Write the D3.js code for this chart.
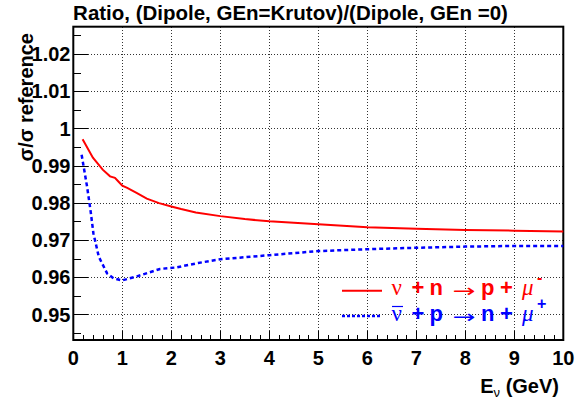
<!DOCTYPE html>
<html><head><meta charset="utf-8">
<script src="https://cdn.jsdelivr.net/npm/d3@7"></script>
<style>
html,body{margin:0;padding:0;background:#fff;}
svg{display:block;}
</style></head>
<body>
<script>
// ---- data ----
const titleText = "Ratio, (Dipole, GEn=Krutov)/(Dipole, GEn =0)";
const xTicks = [0,1,2,3,4,5,6,7,8,9,10];
const yTicks = [0.95,0.96,0.97,0.98,0.99,1,1.01,1.02];
const yTickLabels = ["0.95","0.96","0.97","0.98","0.99","1","1.01","1.02"];
const nuE = [0.19,0.4,0.6,0.75,0.85,0.92,1.0,1.1,1.3,1.5,1.75,2.0,2.2,2.5,3,3.5,4,4.5,5,6,7,8,9,10];
const nuR = [0.9971,0.9921,0.9889,0.9871,0.9867,0.9857,0.9846,0.9840,0.9826,0.9811,0.9799,0.9790,0.9783,0.9774,0.9764,0.9756,0.9750,0.9746,0.9742,0.9734,0.9730,0.9727,0.9725,0.9723];
const nubarE = [0.17,0.28,0.35,0.41,0.52,0.69,0.82,0.99,1.3,1.77,2.1,2.55,3,4,5,6,7,8,9,10];
const nubarR = [0.9929,0.9844,0.9781,0.9718,0.9655,0.9610,0.9597,0.9591,0.9602,0.9622,0.9626,0.9638,0.9648,0.9659,0.9670,0.9675,0.9679,0.9682,0.9684,0.9684];

const SANS = "'Liberation Sans',Arial,sans-serif";
const W = 583, H = 400;
const L = 73.3, R = 563.3, T = 26.7, B = 340;
const svg = d3.select("body").append("svg").attr("width", W).attr("height", H)
  .style("font-family", SANS);

const x = d3.scaleLinear().domain([0,10]).range([L,R]);
const y = d3.scaleLinear().domain([0.94309,1.02734]).range([B,T]);

// grid
const grid = svg.append("g").attr("stroke","#333").attr("stroke-width",1).attr("stroke-dasharray","1,2").attr("shape-rendering","crispEdges");
grid.selectAll("line.gx").data(xTicks.filter(d=>d>0&&d<10)).join("line")
  .attr("x1",d=>Math.round(x(d))+0.5).attr("x2",d=>Math.round(x(d))+0.5).attr("y1",T).attr("y2",B);
grid.selectAll("line.gy").data(yTicks).join("line")
  .attr("y1",d=>Math.round(y(d))+0.5).attr("y2",d=>Math.round(y(d))+0.5).attr("x1",L).attr("x2",R);

// ticks (major + minor)
const tk = svg.append("g").attr("stroke","#000").attr("stroke-width",1).attr("shape-rendering","crispEdges");
const xMinor = d3.range(0,10.001,0.2).map(v=>+v.toFixed(2));
tk.selectAll("line.xt").data(xMinor).join("line")
  .attr("x1",d=>Math.round(x(d))+0.5).attr("x2",d=>Math.round(x(d))+0.5)
  .attr("y1",B).attr("y2",d=>B-(Math.abs(d-Math.round(d))<1e-6?9.5:5));
const yMinor = d3.range(0.945,1.0271,0.005).map(v=>+v.toFixed(3));
tk.selectAll("line.yt").data(yMinor).join("line")
  .attr("y1",d=>Math.round(y(d))+0.5).attr("y2",d=>Math.round(y(d))+0.5)
  .attr("x1",L).attr("x2",d=>L+(Math.abs(d*100-Math.round(d*100))<1e-6?15:7.5));

// frame
svg.append("rect").attr("x",L).attr("y",T).attr("width",R-L).attr("height",B-T)
  .attr("fill","none").attr("stroke","#000").attr("stroke-width",2);

// curves
const line = d3.line().x(d=>x(d[0])).y(d=>y(d[1]));
svg.append("path").datum(nuE.map((e,i)=>[e,nuR[i]])).attr("d",line)
  .attr("fill","none").attr("stroke","#ff0000").attr("stroke-width",2);
svg.append("path").datum(nubarE.map((e,i)=>[e,nubarR[i]])).attr("d",line)
  .attr("fill","none").attr("stroke","#0000ff").attr("stroke-width",2.5).attr("stroke-dasharray","4,3");

// tick labels
svg.append("g").selectAll("text").data(xTicks).join("text")
  .attr("x",d=>x(d)).attr("y",365).attr("text-anchor","middle")
  .attr("font-size",20).attr("font-weight","bold").text(d=>d);
svg.append("g").selectAll("text").data(yTicks).join("text")
  .attr("x",70.5).attr("y",d=>y(d)+7.3).attr("text-anchor","end")
  .attr("font-size",20).attr("font-weight","bold").text((d,i)=>yTickLabels[i]);

// title
const tt = svg.append("text").attr("x",290.5).attr("y",20).attr("text-anchor","middle")
  .attr("font-size",20).attr("font-weight","bold").text(titleText);
const tw = tt.node().getComputedTextLength();
tt.attr("font-size", 20*435/tw);

// axis titles
const xt = svg.append("text").attr("x",559).attr("y",393).attr("text-anchor","end")
  .attr("font-size",20).attr("font-weight","bold");
xt.append("tspan").text("E");
xt.append("tspan").attr("font-size",13).attr("font-weight","normal").attr("dy",4).text("ν");
xt.append("tspan").attr("dy",-4).text(" (GeV)");

svg.append("text").attr("transform","translate(33,33) rotate(-90)").attr("text-anchor","end")
  .attr("font-size",20).attr("font-weight","bold").text("σ/σ reference");

// legend
const legend = [
  {color:"#ff0000", ly:290.7, by:295, dash:null, sw:2, bar:false, tokens:["ν","+","n","→","p","+","μ"], sup:"-"},
  {color:"#0000ff", ly:316, by:321, dash:"3,2", sw:2.5, bar:true, tokens:["ν","+","p","→","n","+","μ"], sup:"+"}
];
const tokX = [391.5,411.5,429.5,452.5,481,500,522];
const tokKind = ["serif","bold","bold","arrow","bold","bold","serif"];
legend.forEach(lg=>{
  svg.append("line").attr("x1",342).attr("x2",382).attr("y1",lg.ly).attr("y2",lg.ly)
    .attr("stroke",lg.color).attr("stroke-width",lg.sw).attr("stroke-dasharray",lg.dash);
  const g = svg.append("g").attr("fill",lg.color);
  lg.tokens.forEach((t,i)=>{
    const k = tokKind[i];
    const el = g.append("text").attr("x",tokX[i]).attr("y",lg.by).attr("font-size",22).text(t);
    if(k==="serif"){
      el.style("font-family","'Liberation Serif',serif").attr("font-weight","normal")
        .attr("font-size",23).attr("font-style", i===6?"italic":"normal");
    } else if(k==="arrow"){
      el.style("font-family","'DejaVu Sans',sans-serif").attr("font-weight","normal")
        .attr("font-size",18).attr("x",0).attr("y",0);
      const bb = el.node().getBBox();
      const sx = 23/bb.width;
      const cy = lg.by - 5;
      el.attr("transform",`translate(${tokX[i]-bb.x*sx},${cy-(bb.y+bb.height/2)}) scale(${sx},1)`);
    } else {
      el.attr("font-weight","bold");
    }
  });
  g.append("text").attr("x",537).attr("y",lg.by-12).attr("font-size",16).attr("font-weight","bold").text(lg.sup);
  if(lg.bar){
    svg.append("line").attr("x1",392).attr("x2",403).attr("y1",lg.by-14.5).attr("y2",lg.by-14.5)
      .attr("stroke",lg.color).attr("stroke-width",1.2);
  }
});
</script>
</body></html>
